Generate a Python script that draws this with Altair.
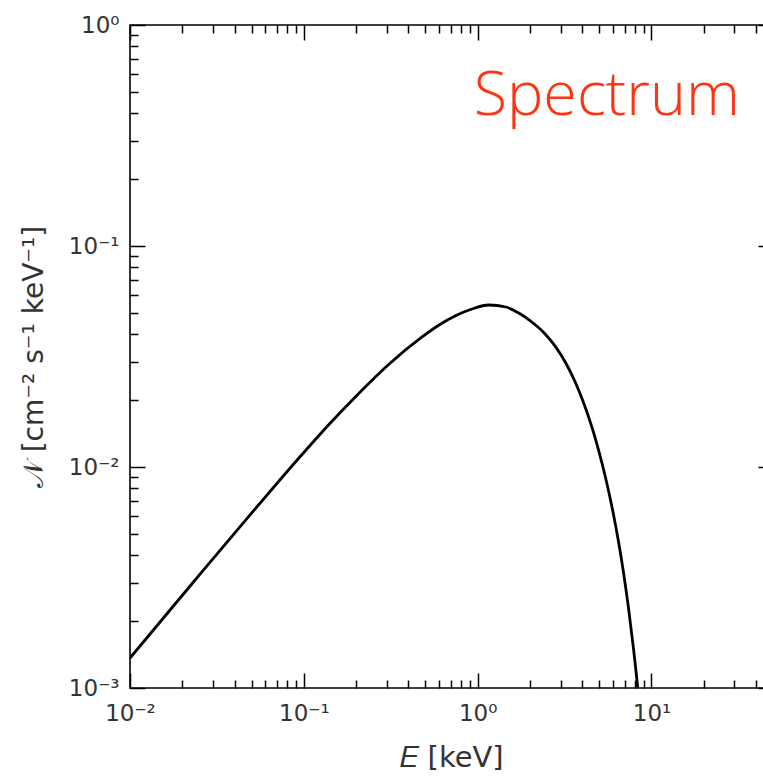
import altair as alt
import pandas as pd

# ---- data ----
energy_keV = [0.0100, 0.02267, 0.05421, 0.0982, 0.1403, 0.2004, 0.3098, 0.4789, 0.5997,
              0.7506, 0.9270, 1.160, 1.4525, 1.7244, 2.0477, 2.3988, 2.8107, 3.2077,
              3.6609, 4.0684, 4.5226, 4.9603, 5.4393, 5.9661, 6.4580, 6.9024, 7.3722,
              7.8749, 8.0838, 8.3016, 8.40]
photon_flux = [1.367e-3, 2.955e-3, 6.660e-3, 1.145e-2, 1.565e-2, 2.096e-2, 2.924e-2, 3.875e-2, 4.391e-2,
               4.847e-2, 5.187e-2, 5.408e-2, 5.297e-2, 4.975e-2, 4.531e-2, 4.062e-2, 3.495e-2, 2.962e-2,
               2.398e-2, 1.952e-2, 1.530e-2, 1.193e-2, 8.96e-3, 6.42e-3, 4.60e-3, 3.334e-3, 2.306e-3,
               1.510e-3, 1.258e-3, 1.033e-3, 0.944e-3]

x_major = [0.01, 0.1, 1, 10]
x_major_labels = ["10⁻²", "10⁻¹", "10⁰", "10¹"]
y_major = [0.001, 0.01, 0.1, 1]
y_major_labels = ["10⁻³", "10⁻²", "10⁻¹", "10⁰"]
x_minor = [k * 10.0 ** p for p in (-2, -1, 0, 1) for k in range(2, 10) if k * 10.0 ** p <= 50]
y_minor = [k * 10.0 ** p for p in (-3, -2, -1) for k in range(2, 10)]

annot_E = [0.95]
annot_N = [0.39]
annot_text = ["Spectrum"]

df = pd.DataFrame({"E": energy_keV, "N": photon_flux})
df_text = pd.DataFrame({"E": annot_E, "N": annot_N, "label": annot_text})


def label_expr(values, labels):
    parts = [f"abs(datum.value - {v}) < {v * 1e-3} ? '{l}'" for v, l in zip(values, labels)]
    return " : ".join(parts) + " : ''"


x_scale = alt.Scale(type="log", domain=[0.01, 50], nice=False)
y_scale = alt.Scale(type="log", domain=[0.001, 1], nice=False)

MAJ = 15
MIN = 8
TICK = dict(tickColor="black", tickWidth=1.5, domain=False, grid=False)
LABEL = dict(labelFont="DejaVu Sans", labelFontSize=23, labelColor="#333",
             labelFlush=False, labelOverlap=False, labelBound=False)
TITLE = dict(titleFont="DejaVu Sans", titleFontWeight="normal", titleColor="#333")

base = alt.Chart(df)

line = base.mark_line(color="black", strokeWidth=2.8, clip=True, interpolate="monotone").encode(
    x=alt.X("E:Q", scale=x_scale, axis=alt.Axis(
        orient="bottom", values=x_major, labelExpr=label_expr(x_major, x_major_labels),
        tickSize=MAJ, offset=-MAJ, labelPadding=14, title="𝐸 [keV]", titleFontSize=29,
        titlePadding=18, **TICK, **LABEL, **TITLE)),
    y=alt.Y("N:Q", scale=y_scale, axis=alt.Axis(
        orient="left", values=y_major, labelExpr=label_expr(y_major, y_major_labels),
        tickSize=MAJ, offset=-MAJ, labelPadding=11, title="𝒩 [cm⁻² s⁻¹ keV⁻¹]", titleFontSize=28,
        titlePadding=20, **TICK, **LABEL, **TITLE)),
)

minor_bl = base.mark_line(opacity=0).encode(
    x=alt.X("E:Q", scale=x_scale, axis=alt.Axis(
        orient="bottom", values=x_minor, tickSize=MIN, offset=-MIN, labels=False, title=None, **TICK)),
    y=alt.Y("N:Q", scale=y_scale, axis=alt.Axis(
        orient="left", values=y_minor, tickSize=MIN, offset=-MIN, labels=False, title=None, **TICK)),
)

major_tr = base.mark_line(opacity=0).encode(
    x=alt.X("E:Q", scale=x_scale, axis=alt.Axis(
        orient="top", values=x_major, tickSize=MAJ, offset=-MAJ, labels=False, title=None, **TICK)),
    y=alt.Y("N:Q", scale=y_scale, axis=alt.Axis(
        orient="right", values=y_major, tickSize=MAJ, offset=-MAJ, labels=False, title=None, **TICK)),
)

minor_tr = base.mark_line(opacity=0).encode(
    x=alt.X("E:Q", scale=x_scale, axis=alt.Axis(
        orient="top", values=x_minor, tickSize=MIN, offset=-MIN, labels=False, title=None, **TICK)),
    y=alt.Y("N:Q", scale=y_scale, axis=alt.Axis(
        orient="right", values=y_minor, tickSize=MIN, offset=-MIN, labels=False, title=None, **TICK)),
)

text = alt.Chart(df_text).mark_text(
    align="left", baseline="alphabetic", font="Open Sans", fontSize=61, fontWeight=300, color="#ff3311"
).encode(
    x=alt.X("E:Q", scale=x_scale, axis=None),
    y=alt.Y("N:Q", scale=y_scale, axis=None),
    text="label:N",
)

chart = (
    alt.layer(line, minor_bl, major_tr, minor_tr, text)
    .resolve_axis(x="independent", y="independent")
    .properties(
        width=643,
        height=663,
        autosize=alt.AutoSizeParams(type="none"),
        padding={"left": 130, "top": 25, "right": -10, "bottom": 90},
        background="white",
    )
    .configure_view(stroke="black", strokeWidth=1.6)
)

chart.save("out.html", embed_options={"renderer": "svg", "actions": False})
